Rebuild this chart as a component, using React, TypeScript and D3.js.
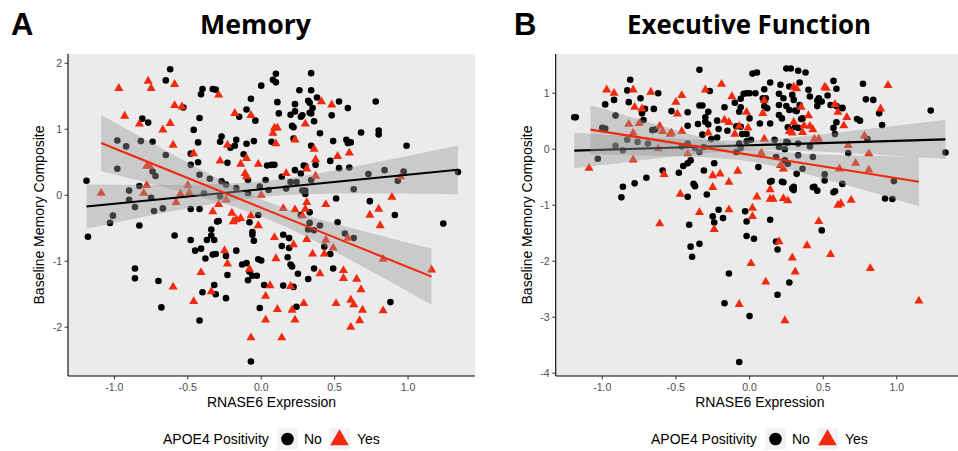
import React from "react";
import * as d3 from "d3";

// ---------- data ----------
const xTicks = [-1.0, -0.5, 0.0, 0.5, 1.0];
const xTickLabels = ["-1.0", "-0.5", "0.0", "0.5", "1.0"];
const yTicksA = [-2, -1, 0, 1, 2];
const yTicksB = [-4, -3, -2, -1, 0, 1];
const groups = ["No", "Yes"];

const memoryNo: [number, number][] = [
  [-1.19,0.22],[-1.18,-0.63],[-0.62,1.91],[-0.65,1.74],[-0.40,1.61],[-0.33,1.61],[-0.31,1.60],[-0.41,1.53],[-0.53,1.33],[-0.42,1.17],[-0.46,0.99],[-0.81,1.16],[-0.77,1.10],[-0.43,0.80],[-0.74,0.81],[-0.98,0.83],[-0.92,0.74],[-0.82,0.82],[-0.98,0.40],[-0.65,0.61],[-0.74,0.36],[-0.72,0.29],[-0.90,0.07],[-0.90,-0.07],[-0.83,0.14],[-0.86,-0.18],[-1.01,-0.31],[-1.03,-0.42],[-0.83,-0.46],[-0.75,-0.04],[-0.73,-0.24],[-0.67,-0.20],[-0.59,-0.61],[-0.86,-1.11],[-0.86,-1.26],[-0.70,-1.30],[-0.68,-1.70],[-0.48,0.63],[-0.48,0.46],[-0.43,0.50],[-0.42,0.31],[-0.42,-0.21],[-0.48,-0.21],[-0.48,-0.68],[-0.45,-0.84],[-0.41,-0.81],[-0.38,-0.96],[-0.37,-0.68],[-0.34,-0.61],[-0.32,-0.68],[-0.34,-0.52],[-0.30,-0.40],[-0.33,-0.90],[-0.31,-0.89],[-0.32,-1.36],[-0.31,-1.50],[-0.40,-1.47],[-0.42,-1.90],[-0.24,-1.56],[-0.23,-1.21],[-0.24,-0.92],[-0.17,-0.84],[-0.13,-1.05],[-0.10,-1.03],[-0.09,-1.29],[-0.08,-1.16],[-0.06,-1.22],[-0.03,-1.22],[-0.06,-0.56],[-0.06,-0.60],[-0.05,-0.69],[-0.02,-0.97],[0.00,-0.99],[-0.01,-1.71],[0.02,-1.36],[-0.07,-2.52],[0.00,1.66],[-0.07,1.46],[-0.10,1.30],[-0.04,1.13],[-0.15,1.19],[-0.10,0.78],[-0.05,0.82],[-0.12,0.62],[-0.27,0.89],[-0.28,0.81],[-0.21,0.72],[-0.18,0.75],[-0.17,0.84],[-0.23,0.49],[-0.09,0.23],[-0.27,0.21],[-0.35,0.25],[-0.39,0.03],[-0.28,-0.02],[-0.24,0.16],[-0.17,0.11],[-0.09,0.03],[-0.01,0.13],[0.05,0.08],[0.07,0.81],[0.04,0.45],[0.07,0.46],[0.09,0.46],[0.03,0.23],[0.08,1.75],[0.10,1.71],[0.10,1.84],[0.11,1.41],[0.12,1.24],[0.14,0.28],[0.15,-0.60],[0.14,-0.77],[0.19,-0.65],[0.19,-0.80],[0.18,-0.94],[0.20,-1.05],[0.21,-1.08],[0.15,-1.37],[0.22,-1.39],[0.24,-1.69],[0.25,-1.19],[0.32,-1.27],[0.33,-0.26],[0.34,1.85],[0.34,1.59],[0.26,1.59],[0.23,1.38],[0.20,1.22],[0.23,1.27],[0.27,1.19],[0.28,1.21],[0.21,1.05],[0.22,1.03],[0.22,0.86],[0.32,1.43],[0.33,1.40],[0.35,1.32],[0.33,1.25],[0.34,1.24],[0.36,1.12],[0.38,1.48],[0.34,0.75],[0.40,0.94],[0.23,0.38],[0.29,0.45],[0.30,0.44],[0.27,0.33],[0.37,0.46],[0.48,1.21],[0.49,0.82],[0.53,1.42],[0.59,1.32],[0.58,0.84],[0.59,0.79],[0.61,0.80],[0.68,0.95],[0.78,1.42],[0.80,0.98],[0.80,0.92],[0.99,0.75],[0.47,0.52],[0.53,0.41],[0.60,0.42],[0.63,0.09],[0.73,0.32],[0.84,0.38],[0.93,0.22],[0.97,0.36],[1.34,0.35],[0.51,-0.05],[0.74,-0.09],[0.91,-0.30],[1.24,-0.43],[0.52,-0.41],[0.57,-0.58],[0.63,-0.65],[0.40,-0.46],[0.36,-0.53],[0.32,-0.52],[0.33,-0.42],[0.27,-0.30],[0.36,-1.11],[0.47,-0.89],[0.43,-0.78],[0.49,-1.11],[0.88,-1.62],[0.17,0.10],[0.20,0.20],[0.24,0.20],[0.28,0.07],[0.30,0.07],[0.30,0.02],[0.34,0.23],[-0.29,-0.39],[-0.08,-0.41],[-0.02,-0.30]
];

const memoryYes: [number, number][] = [
  [-1.09,0.03],[-0.97,1.62],[-0.93,1.20],[-0.83,1.08],[-0.77,1.73],[-0.75,1.62],[-0.67,0.99],[-0.62,1.09],[-0.59,1.68],[-0.59,1.36],[-0.54,1.34],[-0.60,0.76],[-0.46,0.63],[-0.78,0.44],[-0.76,0.44],[-0.78,0.15],[-0.80,0.03],[-0.58,-0.11],[-0.55,0.02],[-0.50,0.15],[-0.49,0.04],[-0.29,1.52],[-0.18,1.24],[-0.07,1.21],[-0.23,0.76],[-0.28,0.52],[-0.14,0.47],[-0.10,0.56],[-0.11,0.33],[-0.10,0.28],[-0.29,-0.14],[-0.33,-0.25],[-0.20,-0.27],[-0.24,-0.07],[-0.19,-0.40],[-0.17,-0.37],[-0.14,-0.35],[-0.07,-0.31],[-0.02,-0.46],[-0.02,0.47],[0.00,0.00],[-0.25,-0.84],[-0.23,-1.04],[-0.41,-1.17],[-0.34,-1.46],[-0.46,-1.61],[-0.60,-1.39],[-0.08,-1.12],[-0.07,-2.16],[0.03,-1.53],[0.03,-1.89],[0.06,-1.37],[0.09,-0.64],[0.10,-0.96],[0.11,-1.73],[0.14,-2.16],[0.09,1.02],[0.11,1.02],[0.08,0.94],[0.10,0.78],[0.17,0.33],[0.15,-0.20],[0.20,-1.38],[0.21,-1.74],[0.23,-1.89],[0.29,-1.64],[0.23,0.84],[0.30,1.08],[0.22,-0.75],[0.23,-0.22],[0.28,-0.31],[0.30,-0.21],[0.31,-0.11],[0.31,-0.67],[0.35,-0.89],[0.43,-0.89],[0.40,-1.19],[0.36,0.70],[0.37,0.54],[0.31,0.40],[0.37,0.29],[0.41,1.42],[0.48,1.37],[0.52,0.59],[0.60,0.64],[0.44,-0.14],[0.44,-0.68],[0.49,-0.80],[0.51,-1.64],[0.56,-1.14],[0.56,-1.26],[0.59,-0.65],[0.61,-1.59],[0.63,-1.66],[0.61,-2.00],[0.65,-1.27],[0.68,-1.43],[0.69,-1.74],[0.67,-1.90],[0.74,-0.30],[0.80,-0.21],[0.81,-0.46],[0.83,-0.97],[0.83,-1.75],[0.89,-0.03],[0.95,0.28],[1.16,-1.13]
];

const execNo: [number, number][] = [
  [-1.19,0.57],[-1.18,0.57],[-0.81,1.24],[-0.83,1.05],[-0.92,0.88],[-0.98,0.80],[-0.82,0.84],[-0.74,0.91],[-0.62,1.00],[-0.71,0.72],[-0.73,0.64],[-0.65,0.72],[-0.72,0.52],[-0.91,0.60],[-1.00,0.38],[-0.98,0.37],[-0.91,0.06],[-0.86,-0.02],[-0.83,0.17],[-0.76,0.13],[-0.66,0.34],[-0.64,0.35],[-0.69,0.10],[-1.03,-0.17],[-0.86,-0.67],[-0.87,-0.86],[-0.78,-0.61],[-0.70,-0.51],[-0.59,-0.38],[-0.48,-0.42],[-0.45,-0.30],[-0.42,-0.25],[-0.40,-0.20],[-0.38,-0.62],[-0.37,-0.66],[-0.29,-0.81],[-0.42,-0.85],[-0.31,-0.38],[-0.24,-0.25],[-0.34,1.42],[-0.42,0.66],[-0.53,0.68],[-0.42,0.42],[-0.35,0.45],[-0.32,0.26],[-0.34,0.78],[-0.32,0.78],[-0.30,0.57],[-0.28,0.67],[-0.30,0.49],[-0.28,0.44],[-0.27,1.04],[-0.22,0.51],[-0.21,0.36],[-0.17,0.75],[-0.15,0.33],[-0.10,0.83],[-0.06,0.90],[-0.02,1.00],[-0.07,0.67],[-0.09,0.41],[-0.05,0.27],[-0.02,0.27],[0.02,1.35],
  [-0.41,-1.35],[-0.40,-1.74],[-0.34,-1.69],[-0.39,-1.92],[-0.25,-1.20],[-0.24,-1.31],[-0.21,-1.08],[-0.18,-1.23],[-0.14,-2.22],[-0.17,-2.75],[-0.03,-1.11],[-0.02,-1.29],[-0.02,-1.55],[0.03,-1.60],[0.00,-2.98],[-0.07,-3.80],[0.14,-1.26],[0.18,-1.65],[0.19,-1.79],[0.19,-2.60],[0.27,-2.38],[0.22,-0.58],[0.14,-0.58],[0.29,-0.70],[0.30,-0.73],[0.43,-0.68],[0.46,-0.74],[0.49,-1.45],[0.57,-0.77],[0.92,-0.88],[0.97,-0.89],[1.33,-0.06],[1.23,0.69],[0.77,1.17],[0.79,0.89],[0.84,0.88],[0.88,0.64],[0.90,0.43],[0.73,0.54],[0.75,0.51],
  [0.59,1.08],[0.57,1.22],[0.53,0.96],[0.47,0.91],[0.49,0.85],[0.46,0.77],[0.55,0.79],[0.59,0.77],[0.63,0.73],[0.59,0.48],[0.57,0.38],[0.40,1.06],[0.41,0.94],[0.34,1.19],[0.33,1.40],[0.38,1.37],[0.25,1.44],[0.28,1.44],[0.21,1.15],[0.27,1.12],[0.23,0.91],[0.29,0.97],[0.25,0.77],[0.27,0.70],[0.20,0.79],[0.20,0.61],[0.22,0.55],[0.31,0.69],[0.32,0.68],[0.34,0.79],[0.36,0.55],[0.31,0.40],[0.33,0.38],[0.28,0.35],[0.14,1.19],[0.10,1.07],[0.09,0.91],[0.11,0.91],[0.10,0.77],[0.12,0.73],[0.05,1.37],[0.04,1.00],[0.00,1.00],[0.00,0.55],[-0.06,0.75],[-0.06,0.40],[-0.04,0.99],[0.14,0.46],[0.07,0.46],[0.26,0.39],[0.35,0.54],[0.46,0.87],[0.63,0.74],[0.20,0.99],[0.30,0.88],
  [0.06,-0.32],[0.15,-0.57],[0.23,-0.59],[0.30,-0.67],[0.44,-0.67],[0.58,-0.75],
  [0.17,0.17],[0.25,0.13],[0.26,0.12],[0.33,0.10],[0.41,0.05],[0.24,0.00],[0.20,0.04],[0.18,-0.14],[0.24,-0.20],[0.26,-0.26],[0.33,-0.11],[0.36,-0.35],[0.43,-0.14],[0.51,-0.45],[0.51,-0.56],[0.32,-0.44],[0.58,0.27],[0.67,-0.07],[0.80,0.18],[0.63,-0.62],[0.98,-0.57],
  [-0.46,0.05],[-0.42,0.10],[-0.37,0.02],[-0.34,-0.05],[-0.31,0.04],[-0.26,0.18],[-0.22,0.21],[-0.09,-0.05],[-0.07,0.10],[-0.06,0.02],[-0.02,0.14],[0.01,0.17]
];

const execYes: [number, number][] = [
  [-1.09,-0.34],[-0.97,1.06],[-0.92,1.00],[-0.79,1.06],[-0.78,0.75],[-0.73,0.72],[-0.67,1.02],[-0.82,0.45],[-0.75,0.46],[-0.79,0.29],[-0.79,-0.19],[-0.61,0.41],[-0.59,0.32],[-0.54,0.27],[-0.53,0.29],[-0.46,0.96],[-0.50,0.84],[-0.49,0.63],[-0.46,0.32],[-0.58,-0.45],[-0.62,0.01],[-0.42,-0.08],[-0.30,1.06],[-0.28,0.29],[-0.19,1.16],[-0.12,0.94],[-0.17,0.52],[-0.14,0.48],[-0.10,0.27],[-0.07,0.41],[-0.02,0.66],[-0.01,0.38],[-0.25,-0.47],[-0.20,-0.44],[-0.14,-0.59],[-0.25,-0.68],[-0.08,-0.39],[-0.47,-0.80],[-0.34,-1.13],[-0.14,-1.08],[-0.61,-1.33],[-0.24,-1.43],[-0.07,-2.77],[0.01,-2.04],[0.02,-1.20],[0.02,-1.05],[0.05,-0.85],[0.11,-2.37],[0.14,-0.72],[0.14,-0.89],[0.16,-0.89],[0.20,-1.65],[0.23,-0.88],[0.24,-3.06],[0.26,-0.92],[0.29,-1.94],[0.31,-2.19],[0.39,-1.72],[0.47,-1.29],[0.55,-1.88],[0.60,-1.00],[0.62,-0.97],[0.69,-0.91],[0.82,-2.13],[1.15,-2.71],[0.94,1.14],[0.89,0.72],
  [0.10,0.87],[0.09,0.64],[0.30,1.11],[0.32,1.08],[0.51,1.11],[0.52,1.09],[0.35,0.75],[0.40,0.60],[0.30,0.48],[0.37,0.42],[0.41,0.41],[0.27,0.32],[0.29,0.29],[0.36,0.30],[0.43,0.35],[0.58,0.80],[0.60,0.66],[0.66,0.57],[0.64,0.42],[0.10,0.18],[0.44,0.18],[0.47,0.18],[0.78,0.24],[0.08,-0.07],[0.21,-0.29],[0.23,-0.35],[0.67,0.07],[0.72,-0.25],[0.81,-0.08],[0.81,-0.37],[0.61,-0.35]
];

// fitted lines with 95% CI bands: x, fit, lower, upper
const memoryNoSmoothX = [-1.19, -0.6, 0, 0.6, 1.34];
const memoryNoFit = [-0.172, -0.042, 0.09, 0.222, 0.385];
const memoryNoLo = [-0.507, -0.24, -0.03, 0.024, 0.015];
const memoryNoHi = [0.163, 0.156, 0.21, 0.42, 0.755];

const memoryYesSmoothX = [-1.09, -0.53, 0.035, 0.6, 1.16];
const memoryYesFit = [0.791, 0.287, -0.222, -0.73, -1.234];
const memoryYesLo = [0.366, 0.046, -0.352, -0.971, -1.659];
const memoryYesHi = [1.216, 0.528, -0.092, -0.489, -0.809];

const execNoSmoothX = [-1.19, -0.6, 0, 0.6, 1.33];
const execNoFit = [-0.025, 0.022, 0.07, 0.118, 0.176];
const execNoLo = [-0.345, -0.157, -0.02, -0.061, -0.174];
const execNoHi = [0.295, 0.201, 0.16, 0.297, 0.526];

const execYesSmoothX = [-1.08, -0.5, 0.035, 0.6, 1.15];
const execYesFit = [0.35, 0.109, -0.115, -0.35, -0.58];
const execYesLo = [-0.09, -0.127, -0.235, -0.596, -1.02];
const execYesHi = [0.79, 0.345, 0.005, -0.104, -0.14];

// ---------- styling ----------
const RED = "#F0290F";
const W = 958;
const H = 451;
const X_DOMAIN: [number, number] = [-1.316, 1.456];

type Smooth = { x: number[]; fit: number[]; lo: number[]; hi: number[] };

type PanelProps = {
  letter: string;
  letterX: number;
  title: string;
  titleX: number;
  titleW: number;
  left: number;
  right: number;
  yDomain: [number, number];
  yTicks: number[];
  no: [number, number][];
  yes: [number, number][];
  smoothNo: Smooth;
  smoothYes: Smooth;
  yTitleX: number;
  legendX: number;
};

const TOP = 54;
const BOTTOM = 376;
const AXIS_FONT = "'Liberation Sans', Arial, sans-serif";
const TITLE_FONT = "'Open Sans', Lato, sans-serif";

function Panel(p: PanelProps) {
  const x = d3.scaleLinear().domain(X_DOMAIN).range([p.left, p.right]);
  const y = d3.scaleLinear().domain(p.yDomain).range([BOTTOM, TOP]);
  const tri = d3.symbol().type(d3.symbolTriangle).size(36)();
  const triBig = d3.symbol().type(d3.symbolTriangle).size(150)();

  const mkRows = (s: Smooth) => s.x.map((v, i) => ({ x: v, fit: s.fit[i], lo: s.lo[i], hi: s.hi[i] }));
  const area = d3
    .area<{ x: number; lo: number; hi: number }>()
    .x((d) => x(d.x))
    .y0((d) => y(d.lo))
    .y1((d) => y(d.hi))
    .curve(d3.curveNatural);
  const line = d3
    .line<{ x: number; fit: number }>()
    .x((d) => x(d.x))
    .y((d) => y(d.fit));

  const clipId = "clip-" + p.letter;
  const smooths = [
    { rows: mkRows(p.smoothNo), color: "#000" },
    { rows: mkRows(p.smoothYes), color: RED },
  ];
  const midX = (p.left + p.right) / 2;
  const lg = p.legendX;

  return (
    <g>
      <text x={p.letterX} y={35} fontFamily={AXIS_FONT} fontWeight={700} fontSize={31} fill="#000">
        {p.letter}
      </text>
      <text
        x={p.titleX - p.titleW / 2}
        y={34.3}
        textLength={p.titleW}
        lengthAdjust="spacingAndGlyphs"
        fontFamily={TITLE_FONT}
        fontWeight={700}
        fontSize={27}
        fill="#000"
      >
        {p.title}
      </text>
      <defs>
        <clipPath id={clipId}>
          <rect x={p.left} y={TOP} width={p.right - p.left} height={BOTTOM - TOP} />
        </clipPath>
      </defs>
      <rect x={p.left} y={TOP} width={p.right - p.left} height={BOTTOM - TOP} fill="#EBEBEB" />
      <g clipPath={`url(#${clipId})`}>
        {p.no.map((d, i) => (
          <circle key={"n" + i} cx={x(d[0])} cy={y(d[1])} r={3.3} fill="#000" />
        ))}
        {p.yes.map((d, i) => (
          <path key={"y" + i} d={tri!} transform={`translate(${x(d[0])},${y(d[1])})`} fill={RED} />
        ))}
        {smooths.map((s, i) => (
          <g key={i}>
            <path d={area(s.rows)!} fill="#999999" fillOpacity={0.4} />
            <path d={line(s.rows)!} fill="none" stroke={s.color} strokeWidth={2.1} />
          </g>
        ))}
      </g>
      {/* axes */}
      <line x1={p.left} x2={p.left} y1={TOP} y2={BOTTOM} stroke="#000" strokeWidth={1.1} />
      <line x1={p.left} x2={p.right} y1={BOTTOM} y2={BOTTOM} stroke="#000" strokeWidth={1.1} />
      {xTicks.map((t, i) => (
        <g key={"xt" + i}>
          <line x1={x(t)} x2={x(t)} y1={BOTTOM} y2={BOTTOM + 3.5} stroke="#333" strokeWidth={1} />
          <text x={x(t)} y={391} textAnchor="middle" fontFamily={AXIS_FONT} fontSize={10.5} fill="#4D4D4D">
            {xTickLabels[i]}
          </text>
        </g>
      ))}
      {p.yTicks.map((t, i) => (
        <g key={"yt" + i}>
          <line x1={p.left - 3.5} x2={p.left} y1={y(t)} y2={y(t)} stroke="#333" strokeWidth={1} />
          <text x={p.left - 6} y={y(t)} dy="0.35em" textAnchor="end" fontFamily={AXIS_FONT} fontSize={10.5} fill="#4D4D4D">
            {String(t)}
          </text>
        </g>
      ))}
      <text x={midX} y={406.5} textAnchor="middle" fontFamily={AXIS_FONT} fontSize={14} fill="#000">
        RNASE6 Expression
      </text>
      <text
        transform={`translate(${p.yTitleX},${(TOP + BOTTOM) / 2}) rotate(-90)`}
        textAnchor="middle"
        fontFamily={AXIS_FONT}
        fontSize={14}
        fill="#000"
      >
        Baseline Memory Composite
      </text>
      {/* legend */}
      <text x={lg} y={443.5} fontFamily={AXIS_FONT} fontSize={14} fill="#000">
        APOE4 Positivity
      </text>
      <rect x={lg + 114} y={428.5} width={21} height={21} fill="#F2F2F2" />
      <circle cx={lg + 124.5} cy={439} r={6.3} fill="#000" />
      <text x={lg + 141} y={443.5} fontFamily={AXIS_FONT} fontSize={14} fill="#000">
        {groups[0]}
      </text>
      <rect x={lg + 166} y={428.5} width={21} height={21} fill="#F2F2F2" />
      <path d={triBig!} transform={`translate(${lg + 176.5},${440})`} fill={RED} />
      <text x={lg + 194} y={443.5} fontFamily={AXIS_FONT} fontSize={14} fill="#000">
        {groups[1]}
      </text>
    </g>
  );
}

export default function App() {
  return (
    <div>
      <style>{`body{margin:0;background:#fff}`}</style>
      <svg width={W} height={H} style={{ display: "block" }}>
        <rect width={W} height={H} fill="#fff" />
        <Panel
          letter="A"
          letterX={11}
          title="Memory"
          titleX={255.5}
          titleW={111}
          left={68}
          right={475}
          yDomain={[-2.74, 2.14]}
          yTicks={yTicksA}
          no={memoryNo}
          yes={memoryYes}
          smoothNo={{ x: memoryNoSmoothX, fit: memoryNoFit, lo: memoryNoLo, hi: memoryNoHi }}
          smoothYes={{ x: memoryYesSmoothX, fit: memoryYesFit, lo: memoryYesLo, hi: memoryYesHi }}
          yTitleX={44}
          legendX={163}
        />
        <Panel
          letter="B"
          letterX={514}
          title="Executive Function"
          titleX={749}
          titleW={244}
          left={555.7}
          right={964}
          yDomain={[-4.05, 1.7]}
          yTicks={yTicksB}
          no={execNo}
          yes={execYes}
          smoothNo={{ x: execNoSmoothX, fit: execNoFit, lo: execNoLo, hi: execNoHi }}
          smoothYes={{ x: execYesSmoothX, fit: execYesFit, lo: execYesLo, hi: execYesHi }}
          yTitleX={532}
          legendX={651}
        />
      </svg>
    </div>
  );
}
